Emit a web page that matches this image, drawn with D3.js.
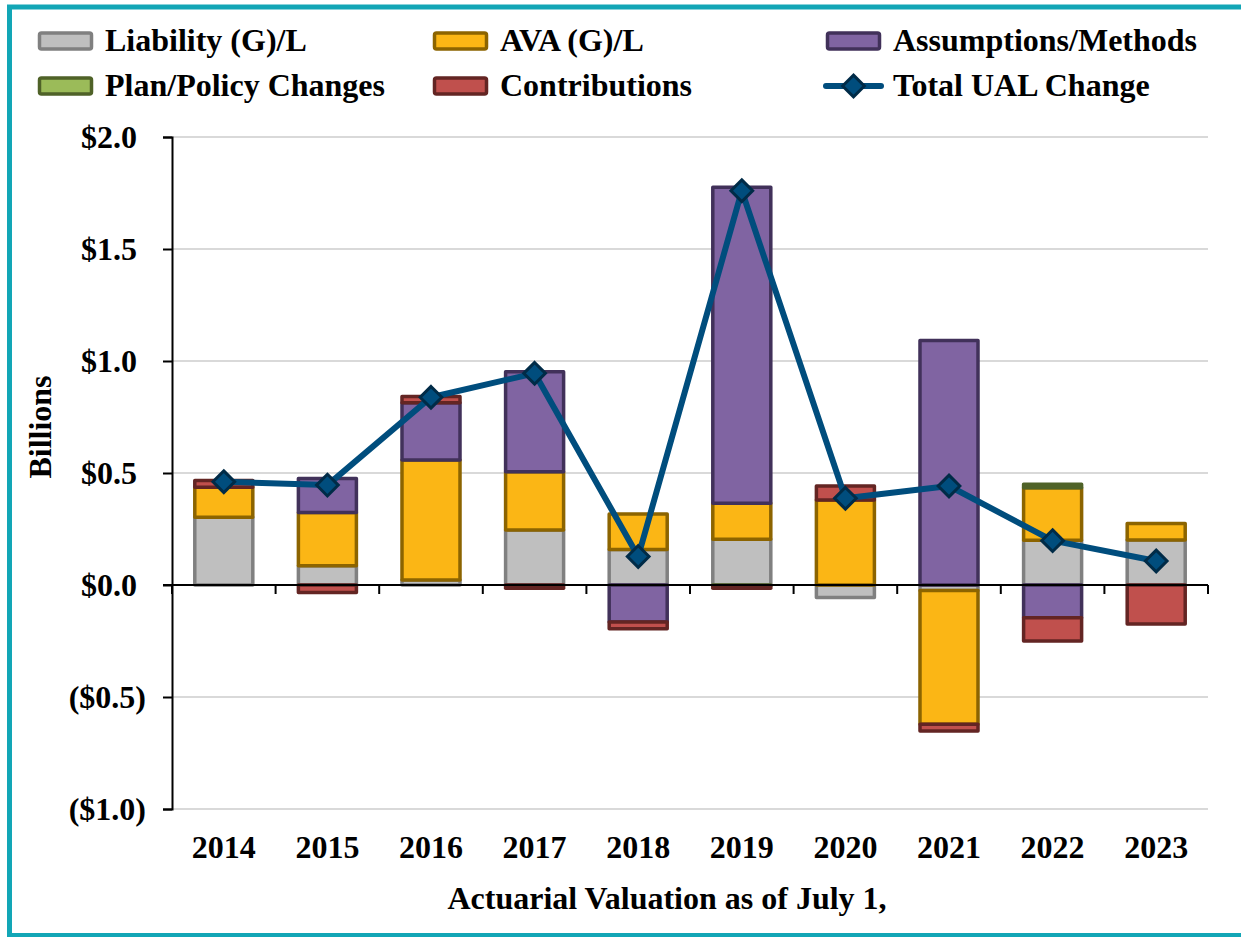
<!DOCTYPE html>
<html>
<head>
<meta charset="utf-8">
<script src="https://cdn.jsdelivr.net/npm/d3@7"></script>
<style>
body { margin: 0; background: #fff; }
svg { display: block; }
text { font-family: "Liberation Serif", "Times New Roman", serif; font-weight: bold; fill: #000; }
</style>
</head>
<body>
<div id="canvas"></div>
<script>
// ----------------------------------------------------------
// DATA -----------------------------------------------------
// ----------------------------------------------------------
var years = ["2014", "2015", "2016", "2017", "2018", "2019", "2020", "2021", "2022", "2023"];

var liability     = [0.302, 0.086, 0.022, 0.245, 0.158, 0.204, -0.056, -0.024, 0.200, 0.201];
var ava           = [0.134, 0.238, 0.536, 0.261, 0.159, 0.161, 0.379, -0.598, 0.234, 0.074];
var assumptions   = [0.000, 0.152, 0.256, 0.446, -0.165, 1.411, 0.000, 1.091, -0.146, 0.000];
var plan          = [0.000, 0.000, 0.000, 0.000, 0.000, -0.004, 0.000, 0.000, 0.016, 0.000];
var contributions = [0.030, -0.033, 0.027, -0.015, -0.030, -0.010, 0.063, -0.030, -0.104, -0.174];
var total_ual     = [0.461, 0.446, 0.838, 0.945, 0.127, 1.760, 0.387, 0.442, 0.198, 0.107];

var y_ticks = [-1.0, -0.5, 0.0, 0.5, 1.0, 1.5, 2.0];

var series_names = ["Liability (G)/L", "AVA (G)/L", "Assumptions/Methods", "Plan/Policy Changes", "Contributions"];
var series_values = [liability, ava, assumptions, plan, contributions];
var line_name = "Total UAL Change";

var series_style = [
{ fill: "#BFBFBF", stroke: "#808080" },
{ fill: "#FBB615", stroke: "#8C6400" },
{ fill: "#8064A2", stroke: "#41315A" },
{ fill: "#9BBB59", stroke: "#4F6228" },
{ fill: "#C0504D", stroke: "#632523" }
];

var data_set =
{
container_width: 1241,
container_height: 937,
plot_left: 172,
plot_right: 1208,
plot_top: 137,
plot_bottom: 809,
font_size: "32px",
color_frame: "#12A6B6",
color_grid: "#D9D9D9",
color_line: "#004D7D",
color_marker_stroke: "#002B47"
};

// table for d3.stack built from the series arrays
var table = years.map((y, i) => {
var row = { year: y };
series_names.forEach((s, k) => { row[s] = series_values[k][i]; });
return row;
});


// ----------------------------------------------------------
// STRUCTURE ------------------------------------------------
// ----------------------------------------------------------
var container = d3.select("#canvas").append("svg")
.attr("width", data_set.container_width)
.attr("height", data_set.container_height);

// frame
container.append("rect")
.attr("x", 9.5)
.attr("y", 7)
.attr("width", 1300)
.attr("height", 928.5)
.attr("fill", "#fff")
.attr("stroke", data_set.color_frame)
.attr("stroke-width", 5);

var grid_group = container.append("g").attr("class", "grid_group");
var bar_group = container.append("g").attr("class", "bar_group");
var axis_group = container.append("g").attr("class", "axis_group");
var line_group = container.append("g").attr("class", "line_group");
var legend_group = container.append("g").attr("class", "legend_group");


// ----------------------------------------------------------
// SCALES ---------------------------------------------------
// ----------------------------------------------------------
var yScale = d3.scaleLinear()
.domain([-1, 2])
.range([data_set.plot_bottom, data_set.plot_top]);

var xScale = d3.scaleBand()
.domain(years)
.range([data_set.plot_left, data_set.plot_right])
.paddingInner(0.44)
.paddingOuter(0.22);

var step = xScale.step();


// ----------------------------------------------------------
// GRID -----------------------------------------------------
// ----------------------------------------------------------
grid_group.selectAll("line")
.data(y_ticks.filter((t) => t !== 0))
.enter()
.append("line")
.attr("x1", data_set.plot_left)
.attr("x2", data_set.plot_right)
.attr("y1", (t) => yScale(t))
.attr("y2", (t) => yScale(t))
.attr("stroke", data_set.color_grid)
.attr("stroke-width", 2);


// ----------------------------------------------------------
// BARS -----------------------------------------------------
// ----------------------------------------------------------
var stacked = d3.stack()
.keys(series_names)
.offset(d3.stackOffsetDiverging)(table);

var layer = bar_group.selectAll("g")
.data(stacked)
.enter()
.append("g")
.attr("fill", (d, i) => series_style[i].fill)
.attr("stroke", (d, i) => series_style[i].stroke)
.attr("stroke-width", 3.5)
.attr("stroke-linejoin", "round");

layer.selectAll("rect")
.data((d) => d.filter((p) => p[1] !== p[0]))
.enter()
.append("rect")
.attr("x", (p) => xScale(p.data.year))
.attr("y", (p) => yScale(Math.max(p[0], p[1])))
.attr("width", xScale.bandwidth())
.attr("height", (p) => Math.abs(yScale(p[0]) - yScale(p[1])));


// ----------------------------------------------------------
// AXES -----------------------------------------------------
// ----------------------------------------------------------
// left
var y_axis = axis_group.append("g")
.attr("transform", `translate(${data_set.plot_left}, 0)`)
.call(d3.axisLeft(yScale)
.tickValues(y_ticks)
.tickSize(9)
.tickPadding(0)
.tickFormat((t) => t < 0 ? `($${Math.abs(t).toFixed(1)})` : `$${t.toFixed(1)}`));

y_axis.select(".domain").attr("stroke", "#000").attr("stroke-width", 2);
y_axis.selectAll(".tick line").attr("stroke", "#000").attr("stroke-width", 2);
y_axis.selectAll(".tick text")
.attr("x", (t) => t < 0 ? -26 : -35)
.attr("dy", "0.34em")
.style("font-size", data_set.font_size)
.style("font-family", "Liberation Serif, serif")
.style("font-weight", "bold");

// bottom (zero line with ticks between categories)
var bottom_axis = axis_group.append("g")
.attr("transform", `translate(0, ${yScale(0)})`);

bottom_axis.append("line")
.attr("x1", data_set.plot_left - 9)
.attr("x2", data_set.plot_right)
.attr("stroke", "#000")
.attr("stroke-width", 2);

bottom_axis.selectAll(".xtick")
.data(d3.range(years.length + 1))
.enter()
.append("line")
.attr("class", "xtick")
.attr("x1", (k) => data_set.plot_left + k * step)
.attr("x2", (k) => data_set.plot_left + k * step)
.attr("y1", 0)
.attr("y2", 9)
.attr("stroke", "#000")
.attr("stroke-width", 2);

// year labels
axis_group.selectAll(".year_label")
.data(years)
.enter()
.append("text")
.attr("class", "year_label")
.attr("x", (y) => xScale(y) + xScale.bandwidth() / 2)
.attr("y", 858)
.attr("text-anchor", "middle")
.style("font-size", data_set.font_size)
.text((y) => y);

// axis titles
axis_group.append("text")
.attr("x", 667)
.attr("y", 909)
.attr("text-anchor", "middle")
.style("font-size", data_set.font_size)
.text("Actuarial Valuation as of July 1,");

axis_group.append("text")
.attr("transform", "translate(51, 427) rotate(-90)")
.attr("text-anchor", "middle")
.style("font-size", data_set.font_size)
.text("Billions");


// ----------------------------------------------------------
// LINE -----------------------------------------------------
// ----------------------------------------------------------
var center = (i) => xScale(years[i]) + xScale.bandwidth() / 2;

var line = d3.line()
.x((d, i) => center(i))
.y((d) => yScale(d));

line_group.append("path")
.datum(total_ual)
.attr("d", line)
.attr("fill", "none")
.attr("stroke", data_set.color_line)
.attr("stroke-width", 6)
.attr("stroke-linejoin", "round");

var diamond = d3.symbol().type(d3.symbolDiamond2).size(300);

line_group.selectAll(".marker")
.data(total_ual)
.enter()
.append("path")
.attr("class", "marker")
.attr("d", diamond)
.attr("transform", (d, i) => `translate(${center(i)}, ${yScale(d)})`)
.attr("fill", data_set.color_line)
.attr("stroke", data_set.color_marker_stroke)
.attr("stroke-width", 3);


// ----------------------------------------------------------
// LEGEND ---------------------------------------------------
// ----------------------------------------------------------
var legend_cols = [38, 433, 826];
var legend_rows = [41, 86];

var legend_items = series_names.map((s, i) => ({ name: s, style: series_style[i], type: "bar" }));
legend_items.push({ name: line_name, type: "line" });

var legend_item = legend_group.selectAll("g")
.data(legend_items)
.enter()
.append("g")
.attr("transform", (d, i) => `translate(${legend_cols[i % 3]}, ${legend_rows[Math.floor(i / 3)]})`);

legend_item.filter((d) => d.type === "bar")
.append("rect")
.attr("x", 1.5)
.attr("y", -8)
.attr("width", 52)
.attr("height", 16)
.attr("rx", 2)
.attr("fill", (d) => d.style.fill)
.attr("stroke", (d) => d.style.stroke)
.attr("stroke-width", 3.5);

var legend_line = legend_item.filter((d) => d.type === "line");
legend_line.append("line")
.attr("x1", 0)
.attr("x2", 55)
.attr("stroke", data_set.color_line)
.attr("stroke-width", 6)
.attr("stroke-linecap", "round");
legend_line.append("path")
.attr("d", diamond)
.attr("transform", "translate(27.5, 0)")
.attr("fill", data_set.color_line)
.attr("stroke", data_set.color_marker_stroke)
.attr("stroke-width", 3);

legend_item.append("text")
.attr("x", 67)
.attr("y", 10)
.style("font-size", data_set.font_size)
.text((d) => d.name);
</script>
</body>
</html>
